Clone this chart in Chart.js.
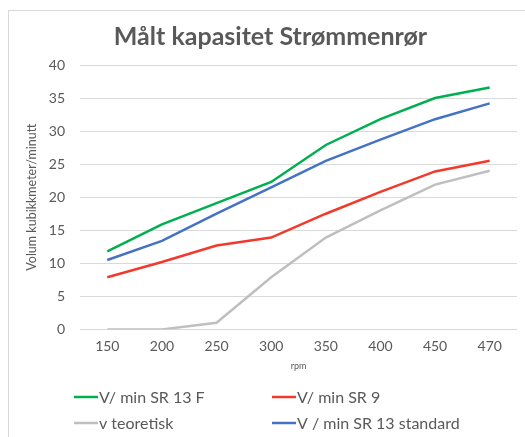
<!DOCTYPE html>
<html>
<head>
<meta charset="utf-8">
<script src="https://cdn.jsdelivr.net/npm/chart.js@4"></script>
<style>
  html, body { margin: 0; padding: 0; background: #fff; }
  #frame { position: absolute; left: 8px; top: 10px; width: 540px; height: 450px; border: 1px solid #d9d9d9; box-sizing: border-box; }
  #wrap { position: absolute; left: 0; top: 0; width: 525px; height: 437px; }
</style>
</head>
<body>
<div id="frame"></div>
<div id="wrap"><canvas id="c" width="525" height="437"></canvas></div>
<script>
const categories = ["150", "200", "250", "300", "350", "400", "450", "470"];
const seriesNames = ["V/ min SR 13 F", "V/ min SR 9", "v teoretisk", "V / min SR 13 standard"];
const sr13F = [11.8, 15.9, 19.1, 22.3, 27.9, 31.8, 35.0, 36.6];
const sr9 = [7.9, 10.2, 12.7, 13.9, 17.5, 20.8, 23.9, 25.5];
const teoretisk = [0, 0, 1.0, 7.9, 13.9, 18.0, 21.9, 24.0];
const sr13Std = [10.5, 13.4, 17.5, 21.5, 25.5, 28.7, 31.8, 34.2];
const colors = ["#00b050", "#f23a2c", "#bfbfbf", "#4472c4"];

const FONT = "Lato, 'Liberation Sans', sans-serif";

const gridLegend = {
  id: 'gridLegend',
  afterDraw(chart) {
    const ctx = chart.ctx;
    const cols = [74, 272];
    const rows = [397, 423];
    ctx.save();
    ctx.font = "16px " + FONT;
    ctx.textBaseline = "middle";
    ctx.textAlign = "left";
    chart.data.datasets.forEach((ds, i) => {
      const x = cols[i % 2];
      const y = rows[Math.floor(i / 2)];
      ctx.strokeStyle = ds.borderColor;
      ctx.lineWidth = 2.5;
      ctx.beginPath();
      ctx.moveTo(x, y);
      ctx.lineTo(x + 24, y);
      ctx.stroke();
      ctx.fillStyle = "#595959";
      ctx.fillText(ds.label, x + 25, y + 1);
    });
    ctx.restore();
  }
};

const datasets = [sr13F, sr9, teoretisk, sr13Std].map((d, i) => ({
  label: seriesNames[i],
  data: d,
  borderColor: colors[i],
  backgroundColor: colors[i],
  borderWidth: 2.5,
  pointRadius: 0,
  tension: 0,
  fill: false
}));

new Chart(document.getElementById('c'), {
  type: 'line',
  data: { labels: categories, datasets },
  options: {
    responsive: false,
    animation: false,
    layout: { padding: { top: 22, left: 24, right: 8, bottom: 66 } },
    plugins: {
      legend: { display: false },
      tooltip: { enabled: false },
      title: {
        display: true,
        text: "Målt kapasitet Strømmenrør",
        color: "#595959",
        font: { family: FONT, size: 25, weight: "bold" },
        padding: { top: 0, bottom: 13 }
      }
    },
    scales: {
      x: {
        offset: true,
        grid: { display: false },
        border: { display: false },
        ticks: { color: "#595959", font: { family: FONT, size: 14 }, padding: 1 },
        title: { display: true, text: "rpm", color: "#595959", font: { family: FONT, size: 9 }, padding: { top: 4, bottom: 0 } }
      },
      y: {
        min: 0, max: 40,
        afterFit(scale) { scale.width = 56; },
        grid: { color: "#d9d9d9", lineWidth: 1, drawTicks: false },
        border: { display: false },
        ticks: { stepSize: 5, color: "#595959", font: { family: FONT, size: 14 }, padding: 15 },
        title: { display: true, text: "Volum kubikkmeter/minutt", color: "#595959", font: { family: FONT, size: 12.5 }, padding: { top: 0, bottom: 4 } }
      }
    }
  },
  plugins: [gridLegend]
});
</script>
</body>
</html>
